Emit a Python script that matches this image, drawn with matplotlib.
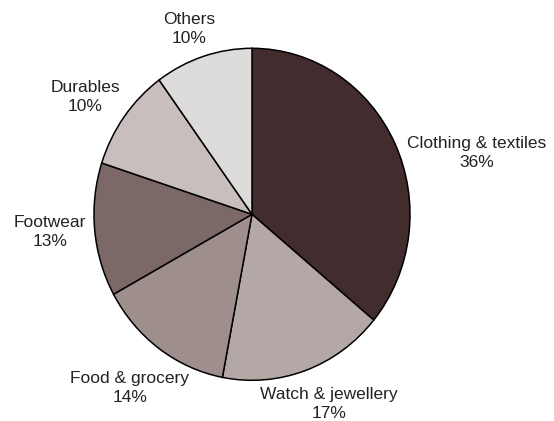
import matplotlib.pyplot as plt

# slice data, clockwise from 12 o'clock
categories = ['Clothing & textiles', 'Watch & jewellery', 'Food & grocery',
              'Footwear', 'Durables', 'Others']
shares = [36, 17, 14, 13, 10, 10]
colors = ['#432c2e', '#b3a8a6', '#9e8f8d', '#7c6866', '#c8bebd', '#dedcdb']

# label centres in pixel coordinates of the 554x421 image
label_px = [(477, 153), (329, 404), (130, 388), (50, 232), (85, 97), (189, 29)]

W, H = 554, 421
cx, cy = 252, 214.3   # pie centre, pixels from top-left
rx, ry = 158, 166     # pie radius in pixels (slightly squashed)

plt.rcParams['font.family'] = ['Liberation Sans', 'DejaVu Sans']

fig = plt.figure(figsize=(W / 100, H / 100), dpi=100)
ax = fig.add_axes([0, 0, 1, 1])

ax.pie(shares, colors=colors, startangle=90, counterclock=False,
       wedgeprops=dict(edgecolor='black', linewidth=1.1))
ax.set_aspect('auto')
ax.set_xlim(-cx / rx, (W - cx) / rx)
ax.set_ylim(-(H - cy) / ry, cy / ry)
ax.axis('off')

for name, val, (px, py) in zip(categories, shares, label_px):
    ax.text((px - cx) / rx, (cy - py) / ry, f'{name}\n{val}%',
            ha='center', va='center', fontsize=12.5, color='#222222',
            linespacing=1.35)

fig.savefig('out.png', dpi=100)
